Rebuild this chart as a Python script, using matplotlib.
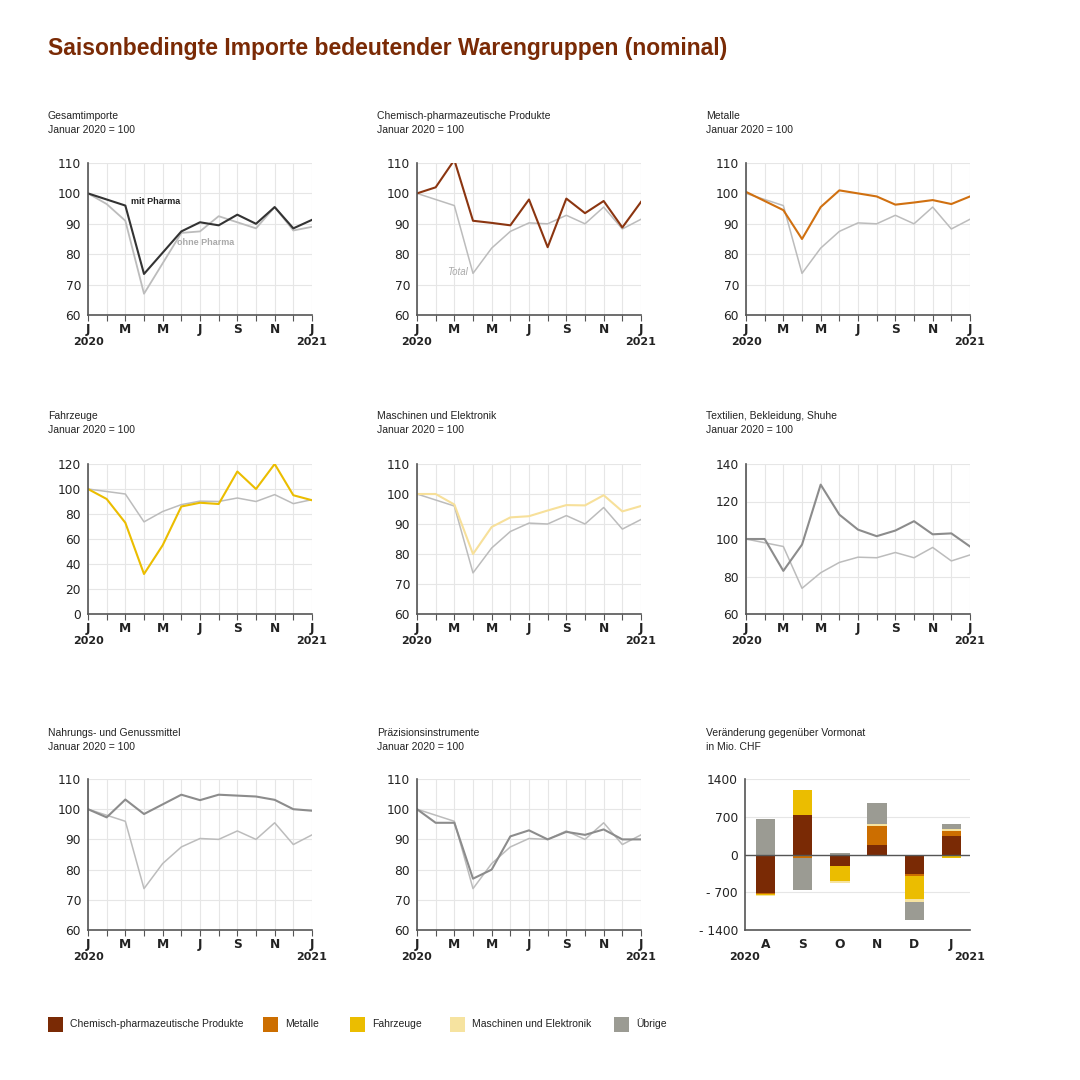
import numpy as np
import matplotlib.pyplot as plt
from matplotlib.patches import Rectangle

plt.rcParams['font.family'] = ['Liberation Sans', 'DejaVu Sans']

# Monthly index values, Jan 2020 .. Jan 2021 (Januar 2020 = 100)
months = np.arange(13)
month_labels = ['J', '', 'M', '', 'M', '', 'J', '', 'S', '', 'N', '', 'J']

total = [100, 98, 96, 73.7, 82, 87.5, 90.3, 90, 92.8, 90, 95.5, 88.3, 91.5]
mit_pharma = [100, 98, 96, 73.5, 80.5, 87.5, 90.5, 89.5, 93, 90, 95.5, 88.5, 91.3]
ohne_pharma = [100, 96.5, 91, 67, 77, 87, 87.5, 92.5, 90.5, 88.5, 95.5, 87.8, 89]
chemie = [100, 102, 111, 91, 90.3, 89.5, 98, 82.3, 98.3, 93.5, 97.5, 88.8, 97.2]
metalle = [100.5, 97.5, 94.5, 85, 95.5, 101, 100, 99, 96.3, 97, 97.8, 96.5, 99]
fahrzeuge = [100, 92, 73, 32, 55, 86, 89, 88, 114, 100, 120, 95, 91]
maschinen = [100, 100, 96.5, 80, 89, 92.2, 92.6, 94.5, 96.3, 96.2, 99.6, 94.2, 96]
textilien = [100, 100, 83, 97, 129, 113, 105, 101.5, 104.5, 109.5, 102.5, 103, 96]
nahrung = [100, 97.3, 103.2, 98.4, 101.6, 104.8, 103, 104.8, 104.5, 104.2, 103.1, 100, 99.5]
praezision = [100, 95.5, 95.5, 77, 80, 91, 93, 90, 92.5, 91.5, 93.3, 90, 90]

# Change vs previous month, Mio. CHF (Aug 2020 .. Jan 2021)
bar_months = ['A', 'S', 'O', 'N', 'D', 'J']
d_chemie = [-710, 730, -210, 180, -370, 350]
d_metalle = [-25, -60, -5, 350, -30, 80]
d_fahrzeuge = [-25, 470, -280, 0, -420, -60]
d_maschinen = [-15, 0, -30, 40, -60, 40]
d_uebrige = [650, -600, 30, 390, -330, 100]

C_CHEM = '#7a2a05'
C_MET = '#cc6e00'
C_FAHR = '#ebbd00'
C_MASCH = '#f6e3a0'
C_UEB = '#9b9b93'
C_TOTAL = '#bcbcbc'
C_DARK = '#8c8c8c'
C_TITLE = '#7a2a05'

fig = plt.figure(figsize=(10.8, 10.8), dpi=100)


def px_axes(x0, y0, x1, y1):
    return fig.add_axes([x0 / 1080, 1 - y1 / 1080, (x1 - x0) / 1080, (y1 - y0) / 1080])


def style(ax, yticks, ylabels=None):
    for s in ['top', 'right']:
        ax.spines[s].set_visible(False)
    for s in ['left', 'bottom']:
        ax.spines[s].set_color('#555555')
        ax.spines[s].set_linewidth(1.2)
    ax.set_yticks(yticks)
    if ylabels is not None:
        ax.set_yticklabels(ylabels)
    ax.set_ylim(yticks[0], yticks[-1])
    ax.grid(True, color='#e6e6e6', linewidth=0.8)
    ax.set_axisbelow(True)
    ax.tick_params(axis='y', length=0, pad=5, labelsize=8.8, labelcolor='#222222')
    ax.tick_params(axis='x', length=4, width=0.8, color='#555555', pad=2,
                   labelsize=8.8, labelcolor='#222222')
    for lab in ax.get_yticklabels() + ax.get_xticklabels():
        lab.set_family('DejaVu Sans')
    for lab in ax.get_xticklabels():
        lab.set_fontweight('semibold')


def year_labels(ax, x_left, x_right):
    for x, t in [(x_left, '2020'), (x_right, '2021')]:
        ax.text(x, -0.145, t, transform=ax.get_xaxis_transform(), ha='center', va='top',
                fontsize=8, fontweight='bold', family='DejaVu Sans', color='#222222')


def line_panel(ax, yticks):
    ax.set_xlim(0, 12)
    ax.set_xticks(months)
    ax.set_xticklabels(month_labels)
    style(ax, yticks)
    year_labels(ax, 0, 12)


def panel_title(x, y, name, sub='Januar 2020 = 100'):
    fig.text(x / 1080, 1 - y / 1080, name, fontsize=7.5, va='center', color='#222222')
    fig.text(x / 1080, 1 - (y + 14) / 1080, sub, fontsize=7.5, va='center', color='#222222')


cols = [(88, 312), (417, 641), (746, 970)]
rows = [(163, 315), (464, 614), (779, 930)]

fig.text(48 / 1080, 1 - 48 / 1080, 'Saisonbedingte Importe bedeutender Warengruppen (nominal)',
         fontsize=16.5, fontweight='bold', color=C_TITLE, va='center')

# Gesamtimporte
ax = px_axes(cols[0][0], rows[0][0], cols[0][1], rows[0][1])
line_panel(ax, [60, 70, 80, 90, 100, 110])
ax.plot(months, ohne_pharma, color=C_TOTAL, lw=1.3)
ax.plot(months, mit_pharma, color='#333333', lw=1.5)
ax.text(2.3, 97.4, 'mit Pharma', fontsize=6.5, fontweight='bold', color='#222222', va='center')
ax.text(4.75, 83.8, 'ohne Pharma', fontsize=6.5, fontweight='bold', color='#aaaaaa', va='center')
panel_title(48, 116, 'Gesamtimporte')

# Chemisch-pharmazeutische Produkte
ax = px_axes(cols[1][0], rows[0][0], cols[1][1], rows[0][1])
line_panel(ax, [60, 70, 80, 90, 100, 110])
ax.plot(months, total, color=C_TOTAL, lw=1.1)
ax.plot(months, chemie, color='#8b3510', lw=1.5)
ax.text(2.7, 74.3, 'Total', fontsize=7, style='italic', color='#aaaaaa', ha='right', va='center')
panel_title(377, 116, 'Chemisch-pharmazeutische Produkte')

# Metalle
ax = px_axes(cols[2][0], rows[0][0], cols[2][1], rows[0][1])
line_panel(ax, [60, 70, 80, 90, 100, 110])
ax.plot(months, total, color=C_TOTAL, lw=1.1)
ax.plot(months, metalle, color='#d07010', lw=1.5)
panel_title(706, 116, 'Metalle')

# Fahrzeuge
ax = px_axes(cols[0][0], rows[1][0], cols[0][1], rows[1][1])
line_panel(ax, [0, 20, 40, 60, 80, 100, 120])
ax.plot(months, total, color=C_TOTAL, lw=1.1)
ax.plot(months, fahrzeuge, color='#ebbd00', lw=1.5)
panel_title(48, 416, 'Fahrzeuge')

# Maschinen und Elektronik
ax = px_axes(cols[1][0], rows[1][0], cols[1][1], rows[1][1])
line_panel(ax, [60, 70, 80, 90, 100, 110])
ax.plot(months, total, color=C_TOTAL, lw=1.1)
ax.plot(months, maschinen, color='#f7e09a', lw=1.5)
panel_title(377, 416, 'Maschinen und Elektronik')

# Textilien
ax = px_axes(cols[2][0], rows[1][0], cols[2][1], rows[1][1])
line_panel(ax, [60, 80, 100, 120, 140])
ax.plot(months, total, color=C_TOTAL, lw=1.1)
ax.plot(months, textilien, color=C_DARK, lw=1.5)
panel_title(706, 416, 'Textilien, Bekleidung, Shuhe')

# Nahrungs- und Genussmittel
ax = px_axes(cols[0][0], rows[2][0], cols[0][1], rows[2][1])
line_panel(ax, [60, 70, 80, 90, 100, 110])
ax.plot(months, total, color=C_TOTAL, lw=1.1)
ax.plot(months, nahrung, color=C_DARK, lw=1.5)
panel_title(48, 733, 'Nahrungs- und Genussmittel')

# Präzisionsinstrumente
ax = px_axes(cols[1][0], rows[2][0], cols[1][1], rows[2][1])
line_panel(ax, [60, 70, 80, 90, 100, 110])
ax.plot(months, total, color=C_TOTAL, lw=1.1)
ax.plot(months, praezision, color=C_DARK, lw=1.5)
panel_title(377, 733, 'Präzisionsinstrumente')

# Veränderung gegenüber Vormonat (positives and negatives stacked separately)
ax = px_axes(745, rows[2][0], 970, rows[2][1])
xb = np.arange(len(bar_months))
pos_base = np.zeros(len(xb))
neg_base = np.zeros(len(xb))
for vals, col in [(d_chemie, C_CHEM), (d_metalle, C_MET), (d_fahrzeuge, C_FAHR),
                  (d_maschinen, C_MASCH), (d_uebrige, C_UEB)]:
    vals = np.array(vals, dtype=float)
    base = np.where(vals >= 0, pos_base, neg_base)
    ax.bar(xb, vals, bottom=base, width=0.52, color=col, zorder=2)
    pos_base += np.where(vals >= 0, vals, 0)
    neg_base += np.where(vals < 0, vals, 0)
ax.set_xlim(-0.55, 5.5)
ax.set_xticks(xb)
ax.set_xticklabels(bar_months)
style(ax, [-1400, -700, 0, 700, 1400], ['- 1400', '- 700', '0', '700', '1400'])
ax.grid(False, axis='x')
ax.tick_params(axis='x', length=0, pad=6)
ax.axhline(0, color='#555555', lw=1.0, zorder=3)
year_labels(ax, -0.55, 5.5)
panel_title(706, 733, 'Veränderung gegenüber Vormonat', 'in Mio. CHF')

# Legend
legend_items = [('Chemisch-pharmazeutische Produkte', C_CHEM, 48), ('Metalle', C_MET, 263),
                ('Fahrzeuge', C_FAHR, 350), ('Maschinen und Elektronik', C_MASCH, 450),
                ('Übrige', C_UEB, 614)]
for label, col, x in legend_items:
    fig.patches.append(Rectangle((x / 1080, 1 - 1032 / 1080), 15 / 1080, 15 / 1080,
                                 transform=fig.transFigure, facecolor=col, edgecolor='none'))
    fig.text((x + 22) / 1080, 1 - 1024 / 1080, label, fontsize=7.5, va='center', color='#222222')

fig.savefig('out.png', dpi=100, facecolor='white')
